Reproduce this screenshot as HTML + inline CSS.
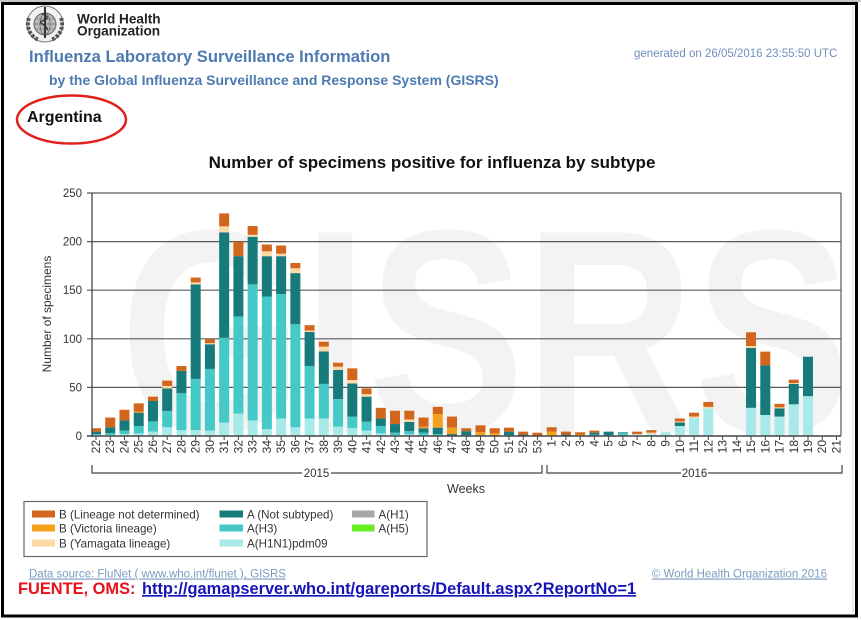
<!DOCTYPE html>
<html><head><meta charset="utf-8">
<style>
html,body{margin:0;padding:0;background:#fff;}
body{width:861px;height:620px;overflow:hidden;font-family:"Liberation Sans",Arial,sans-serif;}
svg{display:block}
.a{fill:#a8eaea}.b{fill:#45c9c7}.c{fill:#187b7b}.d{fill:#fcd9a6}.e{fill:#f6a11c}.f{fill:#d2661c}
text{font-family:"Liberation Sans",Arial,sans-serif}
.xl text{font-size:12px;fill:#333;text-anchor:end}
</style></head><body>
<svg width="861" height="620" viewBox="0 0 861 620" xmlns="http://www.w3.org/2000/svg">
<rect x="0" y="0" width="861" height="620" fill="#fff"/>
<rect x="0" y="0" width="861" height="2" fill="#c8c8c8"/>
<!-- frame -->
<rect x="2.5" y="3.5" width="854" height="612.5" fill="none" stroke="#000" stroke-width="3"/>
<line x1="853" y1="6" x2="853" y2="613" stroke="#d8d8d8" stroke-width="1"/>

<!-- WHO logo -->
<g transform="translate(45,24)">
  <circle r="18" fill="#f2f2f2" stroke="#777" stroke-width="1"/>
  <path d="M-16,-6 A17,17 0 0,0 -6,16 M16,-6 A17,17 0 0,1 6,16" fill="none" stroke="#555" stroke-width="4" stroke-dasharray="3,1.5"/>
  <circle r="11" fill="#bbb" stroke="#666" stroke-width="1"/>
  <ellipse rx="5" ry="11" fill="none" stroke="#666" stroke-width="0.8"/>
  <line x1="-11" y1="0" x2="11" y2="0" stroke="#666" stroke-width="0.8"/>
  <line x1="-10" y1="-5" x2="10" y2="-5" stroke="#666" stroke-width="0.6"/>
  <line x1="-10" y1="5" x2="10" y2="5" stroke="#666" stroke-width="0.6"/>
  <line x1="0" y1="-17" x2="0" y2="14" stroke="#333" stroke-width="2"/>
  <path d="M-3,-10 C4,-8 4,-5 -3,-3 C-8,-1 4,2 2,6" fill="none" stroke="#333" stroke-width="1.4"/>
</g>
<text x="77" y="23.5" font-size="13.6" font-weight="bold" fill="#222">World Health</text>
<text x="77" y="35.5" font-size="13.6" font-weight="bold" fill="#222">Organization</text>

<text x="29" y="62" font-size="16.6" font-weight="bold" fill="#4d7ab0">Influenza Laboratory Surveillance Information</text>
<text x="49" y="85" font-size="14" font-weight="bold" fill="#4d7ab0">by the Global Influenza Surveillance and Response System (GISRS)</text>
<text x="634" y="57" font-size="11.5" fill="#6f8fba">generated on 26/05/2016 23:55:50 UTC</text>

<text x="27" y="122" font-size="16" font-weight="bold" fill="#111">Argentina</text>
<ellipse cx="71.5" cy="119.5" rx="54.5" ry="24" fill="none" stroke="#e0201a" stroke-width="2.5"/>

<text x="432" y="168" font-size="17" font-weight="bold" fill="#111" text-anchor="middle">Number of specimens positive for influenza by subtype</text>

<!-- watermark -->
<text x="0" y="0" transform="translate(120,432) scale(0.81,1)" font-size="290" font-weight="bold" fill="#f3f3f3">GISRS</text>

<!-- grid -->
<g stroke="#5a5a5a" stroke-width="1.2">
<line x1="87" y1="193" x2="841" y2="193"/>
<line x1="87" y1="241.6" x2="841" y2="241.6"/>
<line x1="87" y1="290.2" x2="841" y2="290.2"/>
<line x1="87" y1="338.8" x2="841" y2="338.8"/>
<line x1="87" y1="387.4" x2="841" y2="387.4"/>
<line x1="841" y1="193" x2="841" y2="436"/>
</g>

<!-- bars -->
<g transform="translate(0,436) scale(1,-0.972)">
<rect class="a" x="92.5" width="8.5" y="0" height="1"/><rect class="b" x="92.5" width="8.5" y="1" height="1"/><rect class="c" x="92.5" width="8.5" y="2" height="2.5"/><rect class="f" x="92.5" width="8.5" y="4.5" height="3.5"/>
<rect class="a" x="105.24" width="10" y="0" height="1"/><rect class="b" x="105.24" width="10" y="1" height="2"/><rect class="c" x="105.24" width="10" y="3" height="6"/><rect class="f" x="105.24" width="10" y="9" height="10"/>
<rect class="a" x="119.48" width="10" y="0" height="2"/><rect class="b" x="119.48" width="10" y="2" height="3.5"/><rect class="c" x="119.48" width="10" y="5.5" height="10.5"/><rect class="f" x="119.48" width="10" y="16" height="11"/>
<rect class="a" x="133.72" width="10" y="0" height="2.7"/><rect class="b" x="133.72" width="10" y="2.7" height="7.6"/><rect class="c" x="133.72" width="10" y="10.3" height="13.7"/><rect class="e" x="133.72" width="10" y="24" height="1"/><rect class="f" x="133.72" width="10" y="25" height="8.6"/>
<rect class="a" x="147.96" width="10" y="0" height="4.5"/><rect class="b" x="147.96" width="10" y="4.5" height="10.5"/><rect class="c" x="147.96" width="10" y="15" height="21"/><rect class="f" x="147.96" width="10" y="36" height="4.5"/>
<rect class="a" x="162.2" width="10" y="0" height="9"/><rect class="b" x="162.2" width="10" y="9" height="16.8"/><rect class="c" x="162.2" width="10" y="25.8" height="23.2"/><rect class="d" x="162.2" width="10" y="49" height="2.5"/><rect class="f" x="162.2" width="10" y="51.5" height="5.5"/>
<rect class="a" x="176.44" width="10" y="0" height="6"/><rect class="b" x="176.44" width="10" y="6" height="38"/><rect class="c" x="176.44" width="10" y="44" height="23"/><rect class="f" x="176.44" width="10" y="67" height="5"/>
<rect class="a" x="190.68" width="10" y="0" height="6"/><rect class="b" x="190.68" width="10" y="6" height="52.7"/><rect class="c" x="190.68" width="10" y="58.7" height="97.3"/><rect class="d" x="190.68" width="10" y="156" height="2"/><rect class="f" x="190.68" width="10" y="158" height="5"/>
<rect class="a" x="204.92" width="10" y="0" height="5.5"/><rect class="b" x="204.92" width="10" y="5.5" height="63.5"/><rect class="c" x="204.92" width="10" y="69" height="25.4"/><rect class="d" x="204.92" width="10" y="94.4" height="1.1"/><rect class="f" x="204.92" width="10" y="95.5" height="4.1"/>
<rect class="a" x="219.16" width="10" y="0" height="13.7"/><rect class="b" x="219.16" width="10" y="13.7" height="87.3"/><rect class="c" x="219.16" width="10" y="101" height="108.5"/><rect class="d" x="219.16" width="10" y="209.5" height="6.2"/><rect class="f" x="219.16" width="10" y="215.7" height="13.3"/>
<rect class="a" x="233.4" width="10" y="0" height="23"/><rect class="b" x="233.4" width="10" y="23" height="100"/><rect class="c" x="233.4" width="10" y="123" height="62"/><rect class="f" x="233.4" width="10" y="185" height="15"/>
<rect class="a" x="247.64" width="10" y="0" height="16"/><rect class="b" x="247.64" width="10" y="16" height="140"/><rect class="c" x="247.64" width="10" y="156" height="49"/><rect class="d" x="247.64" width="10" y="205" height="2"/><rect class="f" x="247.64" width="10" y="207" height="9"/>
<rect class="a" x="261.88" width="10" y="0" height="7"/><rect class="b" x="261.88" width="10" y="7" height="136.5"/><rect class="c" x="261.88" width="10" y="143.5" height="41.5"/><rect class="d" x="261.88" width="10" y="185" height="5"/><rect class="f" x="261.88" width="10" y="190" height="7"/>
<rect class="a" x="276.12" width="10" y="0" height="18"/><rect class="b" x="276.12" width="10" y="18" height="128"/><rect class="c" x="276.12" width="10" y="146" height="39"/><rect class="d" x="276.12" width="10" y="185" height="2.5"/><rect class="f" x="276.12" width="10" y="187.5" height="8.5"/>
<rect class="a" x="290.36" width="10" y="0" height="9"/><rect class="b" x="290.36" width="10" y="9" height="106"/><rect class="c" x="290.36" width="10" y="115" height="52.6"/><rect class="d" x="290.36" width="10" y="167.6" height="5"/><rect class="f" x="290.36" width="10" y="172.6" height="5.4"/>
<rect class="a" x="304.6" width="10" y="0" height="18"/><rect class="b" x="304.6" width="10" y="18" height="54"/><rect class="c" x="304.6" width="10" y="72" height="35"/><rect class="d" x="304.6" width="10" y="107" height="1.5"/><rect class="f" x="304.6" width="10" y="108.5" height="5.5"/>
<rect class="a" x="318.84" width="10" y="0" height="18"/><rect class="b" x="318.84" width="10" y="18" height="35.6"/><rect class="c" x="318.84" width="10" y="53.6" height="33.4"/><rect class="d" x="318.84" width="10" y="87" height="5"/><rect class="f" x="318.84" width="10" y="92" height="5"/>
<rect class="a" x="333.08" width="10" y="0" height="9.6"/><rect class="b" x="333.08" width="10" y="9.6" height="28.4"/><rect class="c" x="333.08" width="10" y="38" height="30"/><rect class="d" x="333.08" width="10" y="68" height="3.3"/><rect class="f" x="333.08" width="10" y="71.3" height="4.1"/>
<rect class="a" x="347.32" width="10" y="0" height="8"/><rect class="b" x="347.32" width="10" y="8" height="12"/><rect class="c" x="347.32" width="10" y="20" height="34"/><rect class="d" x="347.32" width="10" y="54" height="3.6"/><rect class="f" x="347.32" width="10" y="57.6" height="12"/>
<rect class="a" x="361.56" width="10" y="0" height="5.5"/><rect class="b" x="361.56" width="10" y="5.5" height="9.2"/><rect class="c" x="361.56" width="10" y="14.7" height="25.8"/><rect class="d" x="361.56" width="10" y="40.5" height="2.5"/><rect class="f" x="361.56" width="10" y="43" height="6"/>
<rect class="a" x="375.8" width="10" y="0" height="2.7"/><rect class="b" x="375.8" width="10" y="2.7" height="7.6"/><rect class="c" x="375.8" width="10" y="10.3" height="7.7"/><rect class="f" x="375.8" width="10" y="18" height="11"/>
<rect class="a" x="390.04" width="10" y="0" height="1"/><rect class="b" x="390.04" width="10" y="1" height="2.4"/><rect class="c" x="390.04" width="10" y="3.4" height="8.9"/><rect class="f" x="390.04" width="10" y="12.3" height="13.7"/>
<rect class="a" x="404.28" width="10" y="0" height="1.7"/><rect class="b" x="404.28" width="10" y="1.7" height="3.3"/><rect class="c" x="404.28" width="10" y="5" height="9.4"/><rect class="d" x="404.28" width="10" y="14.4" height="2.6"/><rect class="f" x="404.28" width="10" y="17" height="9"/>
<rect class="a" x="418.52" width="10" y="0" height="1"/><rect class="b" x="418.52" width="10" y="1" height="2.4"/><rect class="c" x="418.52" width="10" y="3.4" height="4.6"/><rect class="e" x="418.52" width="10" y="8" height="1.6"/><rect class="f" x="418.52" width="10" y="9.6" height="9.4"/>
<rect class="a" x="432.76" width="10" y="0" height="0.5"/><rect class="b" x="432.76" width="10" y="0.5" height="1.5"/><rect class="c" x="432.76" width="10" y="2" height="6.6"/><rect class="e" x="432.76" width="10" y="8.6" height="14"/><rect class="f" x="432.76" width="10" y="22.6" height="7.4"/>
<rect class="b" x="447" width="10" y="0" height="0.5"/><rect class="c" x="447" width="10" y="0.5" height="1.5"/><rect class="e" x="447" width="10" y="2" height="6.6"/><rect class="f" x="447" width="10" y="8.6" height="11.4"/>
<rect class="a" x="461.24" width="10" y="0" height="0.5"/><rect class="b" x="461.24" width="10" y="0.5" height="0.5"/><rect class="c" x="461.24" width="10" y="1" height="4"/><rect class="f" x="461.24" width="10" y="5" height="3"/>
<rect class="a" x="475.48" width="10" y="0" height="0.5"/><rect class="b" x="475.48" width="10" y="0.5" height="0.5"/><rect class="e" x="475.48" width="10" y="1" height="2.8"/><rect class="f" x="475.48" width="10" y="3.8" height="7.2"/>
<rect class="a" x="489.72" width="10" y="0" height="0.5"/><rect class="e" x="489.72" width="10" y="0.5" height="2.2"/><rect class="f" x="489.72" width="10" y="2.7" height="5.3"/>
<rect class="a" x="503.96" width="10" y="0" height="0.5"/><rect class="b" x="503.96" width="10" y="0.5" height="0.5"/><rect class="c" x="503.96" width="10" y="1" height="3.5"/><rect class="f" x="503.96" width="10" y="4.5" height="4.1"/>
<rect class="b" x="518.2" width="10" y="0" height="0.5"/><rect class="c" x="518.2" width="10" y="0.5" height="1"/><rect class="f" x="518.2" width="10" y="1.5" height="3"/>
<rect class="c" x="532.44" width="10" y="0" height="0.5"/><rect class="f" x="532.44" width="10" y="0.5" height="2.9"/>
<rect class="e" x="546.68" width="10" y="0" height="4.5"/><rect class="f" x="546.68" width="10" y="4.5" height="4.5"/>
<rect class="b" x="560.92" width="10" y="0" height="0.5"/><rect class="c" x="560.92" width="10" y="0.5" height="1"/><rect class="f" x="560.92" width="10" y="1.5" height="3"/>
<rect class="e" x="575.16" width="10" y="0" height="1.5"/><rect class="f" x="575.16" width="10" y="1.5" height="2.3"/>
<rect class="a" x="589.4" width="10" y="0" height="0.5"/><rect class="b" x="589.4" width="10" y="0.5" height="1"/><rect class="c" x="589.4" width="10" y="1.5" height="2"/><rect class="f" x="589.4" width="10" y="3.5" height="2"/>
<rect class="a" x="603.64" width="10" y="0" height="0.5"/><rect class="b" x="603.64" width="10" y="0.5" height="0.5"/><rect class="c" x="603.64" width="10" y="1" height="3.5"/>
<rect class="a" x="617.88" width="10" y="0" height="0.5"/><rect class="b" x="617.88" width="10" y="0.5" height="2.5"/><rect class="c" x="617.88" width="10" y="3" height="0.8"/>
<rect class="a" x="632.12" width="10" y="0" height="1.5"/><rect class="d" x="632.12" width="10" y="1.5" height="0.5"/><rect class="f" x="632.12" width="10" y="2" height="2.5"/>
<rect class="a" x="646.36" width="10" y="0" height="2"/><rect class="d" x="646.36" width="10" y="2" height="1.5"/><rect class="f" x="646.36" width="10" y="3.5" height="2.5"/>
<rect class="a" x="660.6" width="10" y="0" height="4"/>
<rect class="a" x="674.84" width="10" y="0" height="10.3"/><rect class="c" x="674.84" width="10" y="10.3" height="3.7"/><rect class="d" x="674.84" width="10" y="14" height="1"/><rect class="f" x="674.84" width="10" y="15" height="3"/>
<rect class="a" x="689.08" width="10" y="0" height="18.5"/><rect class="d" x="689.08" width="10" y="18.5" height="1.5"/><rect class="f" x="689.08" width="10" y="20" height="4"/>
<rect class="a" x="703.32" width="10" y="0" height="28.5"/><rect class="d" x="703.32" width="10" y="28.5" height="1.5"/><rect class="f" x="703.32" width="10" y="30" height="5"/>
<rect class="a" x="746.04" width="10" y="0" height="29"/><rect class="c" x="746.04" width="10" y="29" height="61.6"/><rect class="d" x="746.04" width="10" y="90.6" height="2"/><rect class="f" x="746.04" width="10" y="92.6" height="14.1"/>
<rect class="a" x="760.28" width="10" y="0" height="21.6"/><rect class="c" x="760.28" width="10" y="21.6" height="51.1"/><rect class="f" x="760.28" width="10" y="72.7" height="14.1"/>
<rect class="a" x="774.52" width="10" y="0" height="20"/><rect class="c" x="774.52" width="10" y="20" height="8.5"/><rect class="d" x="774.52" width="10" y="28.5" height="1"/><rect class="f" x="774.52" width="10" y="29.5" height="3.5"/>
<rect class="a" x="788.76" width="10" y="0" height="32.6"/><rect class="c" x="788.76" width="10" y="32.6" height="20.9"/><rect class="d" x="788.76" width="10" y="53.5" height="1"/><rect class="f" x="788.76" width="10" y="54.5" height="3.5"/>
<rect class="a" x="803" width="10" y="0" height="41"/><rect class="c" x="803" width="10" y="41" height="40.6"/>
</g>

<!-- axes -->
<line x1="92" y1="193" x2="92" y2="437" stroke="#444" stroke-width="1.3"/>
<line x1="87" y1="436" x2="841" y2="436" stroke="#444" stroke-width="1.5"/>
<g stroke="#444" stroke-width="1">
<path d="M96,436v4M110.24,436v4M124.48,436v4M138.72,436v4M152.96,436v4M167.2,436v4M181.44,436v4M195.68,436v4M209.92,436v4M224.16,436v4M238.4,436v4M252.64,436v4M266.88,436v4M281.12,436v4M295.36,436v4M309.6,436v4M323.84,436v4M338.08,436v4M352.32,436v4M366.56,436v4M380.8,436v4M395.04,436v4M409.28,436v4M423.52,436v4M437.76,436v4M452,436v4M466.24,436v4M480.48,436v4M494.72,436v4M508.96,436v4M523.2,436v4M537.44,436v4M551.68,436v4M565.92,436v4M580.16,436v4M594.4,436v4M608.64,436v4M622.88,436v4M637.12,436v4M651.36,436v4M665.6,436v4M679.84,436v4M694.08,436v4M708.32,436v4M722.56,436v4M736.8,436v4M751.04,436v4M765.28,436v4M779.52,436v4M793.76,436v4M808,436v4M822.24,436v4M836.48,436v4"/>
</g>

<!-- y labels -->
<g font-size="11.5" fill="#333" text-anchor="end">
<text x="82" y="197">250</text>
<text x="82" y="245.6">200</text>
<text x="82" y="294.2">150</text>
<text x="82" y="342.8">100</text>
<text x="82" y="391.4">50</text>
<text x="82" y="440">0</text>
</g>
<text transform="translate(51,314) rotate(-90)" font-size="12" fill="#333" text-anchor="middle">Number of specimens</text>

<!-- x labels -->
<g class="xl">
<text transform="translate(96,440) rotate(-90)" y="4">22</text>
<text transform="translate(110.24,440) rotate(-90)" y="4">23</text>
<text transform="translate(124.48,440) rotate(-90)" y="4">24</text>
<text transform="translate(138.72,440) rotate(-90)" y="4">25</text>
<text transform="translate(152.96,440) rotate(-90)" y="4">26</text>
<text transform="translate(167.2,440) rotate(-90)" y="4">27</text>
<text transform="translate(181.44,440) rotate(-90)" y="4">28</text>
<text transform="translate(195.68,440) rotate(-90)" y="4">29</text>
<text transform="translate(209.92,440) rotate(-90)" y="4">30</text>
<text transform="translate(224.16,440) rotate(-90)" y="4">31</text>
<text transform="translate(238.4,440) rotate(-90)" y="4">32</text>
<text transform="translate(252.64,440) rotate(-90)" y="4">33</text>
<text transform="translate(266.88,440) rotate(-90)" y="4">34</text>
<text transform="translate(281.12,440) rotate(-90)" y="4">35</text>
<text transform="translate(295.36,440) rotate(-90)" y="4">36</text>
<text transform="translate(309.6,440) rotate(-90)" y="4">37</text>
<text transform="translate(323.84,440) rotate(-90)" y="4">38</text>
<text transform="translate(338.08,440) rotate(-90)" y="4">39</text>
<text transform="translate(352.32,440) rotate(-90)" y="4">40</text>
<text transform="translate(366.56,440) rotate(-90)" y="4">41</text>
<text transform="translate(380.8,440) rotate(-90)" y="4">42</text>
<text transform="translate(395.04,440) rotate(-90)" y="4">43</text>
<text transform="translate(409.28,440) rotate(-90)" y="4">44</text>
<text transform="translate(423.52,440) rotate(-90)" y="4">45</text>
<text transform="translate(437.76,440) rotate(-90)" y="4">46</text>
<text transform="translate(452,440) rotate(-90)" y="4">47</text>
<text transform="translate(466.24,440) rotate(-90)" y="4">48</text>
<text transform="translate(480.48,440) rotate(-90)" y="4">49</text>
<text transform="translate(494.72,440) rotate(-90)" y="4">50</text>
<text transform="translate(508.96,440) rotate(-90)" y="4">51</text>
<text transform="translate(523.2,440) rotate(-90)" y="4">52</text>
<text transform="translate(537.44,440) rotate(-90)" y="4">53</text>
<text transform="translate(551.68,440) rotate(-90)" y="4">1</text>
<text transform="translate(565.92,440) rotate(-90)" y="4">2</text>
<text transform="translate(580.16,440) rotate(-90)" y="4">3</text>
<text transform="translate(594.4,440) rotate(-90)" y="4">4</text>
<text transform="translate(608.64,440) rotate(-90)" y="4">5</text>
<text transform="translate(622.88,440) rotate(-90)" y="4">6</text>
<text transform="translate(637.12,440) rotate(-90)" y="4">7</text>
<text transform="translate(651.36,440) rotate(-90)" y="4">8</text>
<text transform="translate(665.6,440) rotate(-90)" y="4">9</text>
<text transform="translate(679.84,440) rotate(-90)" y="4">10</text>
<text transform="translate(694.08,440) rotate(-90)" y="4">11</text>
<text transform="translate(708.32,440) rotate(-90)" y="4">12</text>
<text transform="translate(722.56,440) rotate(-90)" y="4">13</text>
<text transform="translate(736.8,440) rotate(-90)" y="4">14</text>
<text transform="translate(751.04,440) rotate(-90)" y="4">15</text>
<text transform="translate(765.28,440) rotate(-90)" y="4">16</text>
<text transform="translate(779.52,440) rotate(-90)" y="4">17</text>
<text transform="translate(793.76,440) rotate(-90)" y="4">18</text>
<text transform="translate(808,440) rotate(-90)" y="4">19</text>
<text transform="translate(822.24,440) rotate(-90)" y="4">20</text>
<text transform="translate(836.48,440) rotate(-90)" y="4">21</text>
</g>

<!-- year brackets -->
<g stroke="#444" stroke-width="1.2" fill="none">
<path d="M92,465V473H302M331,473H542V465"/>
<path d="M547,465V473H681M708,473H842V465"/>
</g>
<text x="316.5" y="477" font-size="11.5" fill="#333" text-anchor="middle">2015</text>
<text x="694.5" y="477" font-size="11.5" fill="#333" text-anchor="middle">2016</text>
<text x="466" y="493" font-size="12.5" fill="#333" text-anchor="middle">Weeks</text>

<!-- legend -->
<rect x="24" y="501.5" width="403" height="55" fill="#fff" stroke="#666" stroke-width="1.2"/>
<rect class="f" x="32" y="510.5" width="23" height="7"/>
<rect class="e" x="32" y="524.5" width="23" height="7"/>
<rect class="d" x="32" y="539.5" width="23" height="7"/>
<rect class="c" x="219.5" y="510.5" width="23.5" height="7"/>
<rect class="b" x="219.5" y="524.5" width="23.5" height="7"/>
<rect class="a" x="219.5" y="539.5" width="23.5" height="7"/>
<rect x="352" y="510.5" width="22.5" height="7" fill="#a6a6a6"/>
<rect x="352" y="524.5" width="22.5" height="7" fill="#66ee22"/>
<g font-size="11.6" fill="#333">
<text x="59" y="518.5">B (Lineage not determined)</text>
<text x="59" y="532.5">B (Victoria lineage)</text>
<text x="59" y="547.5">B (Yamagata lineage)</text>
<text x="247" y="518.5">A (Not subtyped)</text>
<text x="247" y="532.5">A(H3)</text>
<text x="247" y="547.5">A(H1N1)pdm09</text>
<text x="378.5" y="518.5">A(H1)</text>
<text x="378.5" y="532.5">A(H5)</text>
</g>

<!-- footer -->
<text x="29" y="577.5" font-size="11.5" fill="#7a9cc0" text-decoration="underline">Data source: FluNet ( www.who.int/flunet ), GISRS</text>
<text x="827" y="577.5" font-size="11.5" fill="#7a9cc0" text-anchor="end" text-decoration="underline">© World Health Organization 2016</text>
<text x="18" y="594" font-size="16.4" font-weight="bold" fill="#e8101a">FUENTE, OMS:</text>
<text x="142" y="594" font-size="16.4" font-weight="bold" fill="#1414b8" text-decoration="underline">http://gamapserver.who.int/gareports/Default.aspx?ReportNo=1</text>
</svg>
</body></html>
